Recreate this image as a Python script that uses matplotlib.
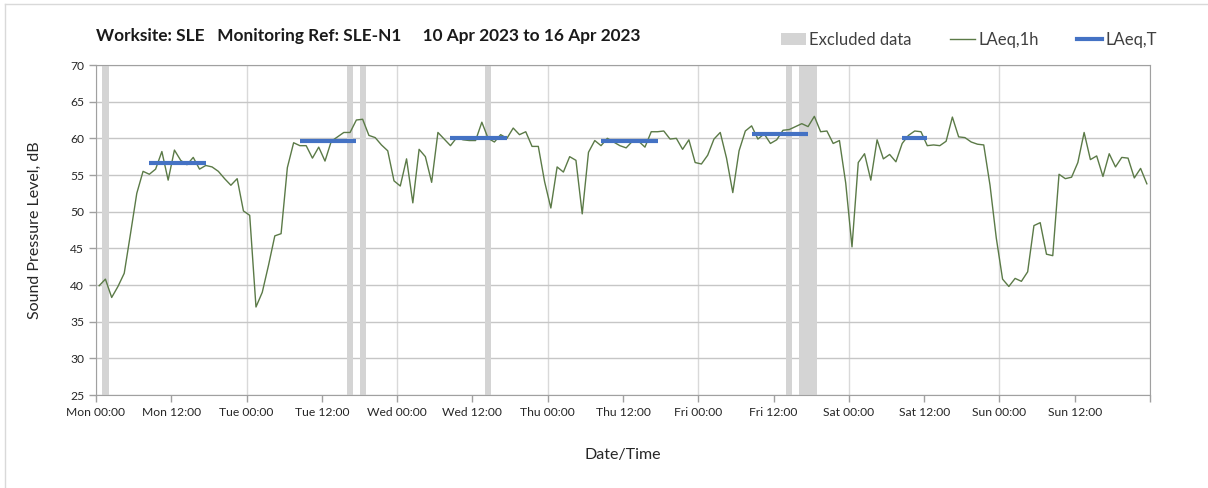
#!/usr/bin/env python
# -*- coding: utf-8 -*-

"""
Hourly noise monitoring chart for worksite SLE, 10 Apr 2023 to 16 Apr 2023.
"""

# Third party modules.
import matplotlib
matplotlib.use("Agg")
import matplotlib.pyplot as plt
from matplotlib.lines import Line2D
from matplotlib.patches import Patch

# Globals and constants variables.
TITLE = "Worksite: SLE   Monitoring Ref: SLE-N1     10 Apr 2023 to 16 Apr 2023"

# hourly LAeq,1h values, one per hour starting Mon 00:00
laeq_1h = [
    39.9, 40.8, 38.3, 39.8, 41.6, 47.0, 52.5, 55.5, 55.1, 55.8, 58.2, 54.3,
    58.4, 57.0, 56.4, 57.4, 55.8, 56.3, 56.1, 55.5, 54.5, 53.6, 54.5, 50.1,
    49.5, 37.0, 39.0, 42.7, 46.7, 47.0, 56.0, 59.4, 59.0, 59.0, 57.3, 58.8,
    56.9, 59.6, 60.2, 60.8, 60.8, 62.5, 62.6, 60.4, 60.1, 59.1, 58.3, 54.2,
    53.5, 57.2, 51.2, 58.5, 57.5, 54.0, 60.8, 59.9, 59.0, 60.1, 59.8, 59.7,
    59.7, 62.2, 60.0, 59.5, 60.5, 60.0, 61.4, 60.5, 60.9, 58.9, 58.9, 54.1,
    50.5, 56.1, 55.4, 57.5, 57.0, 49.7, 58.1, 59.7, 59.0, 60.0, 59.5, 59.0,
    58.7, 59.6, 59.6, 58.8, 60.9, 60.9, 61.0, 59.9, 60.0, 58.5, 59.8, 56.7,
    56.5, 57.7, 59.9, 60.8, 57.3, 52.6, 58.3, 61.0, 61.7, 59.9, 60.6, 59.3,
    59.8, 61.1, 61.2, 61.6, 62.0, 61.6, 63.0, 60.9, 61.0, 59.3, 59.7, 53.9,
    45.2, 56.7, 57.9, 54.3, 59.8, 57.2, 57.8, 56.8, 59.3, 60.4, 61.0, 60.9,
    59.0, 59.1, 59.0, 59.6, 62.9, 60.2, 60.1, 59.5, 59.2, 59.1, 53.6, 46.4,
    40.8, 39.8, 40.9, 40.5, 41.8, 48.1, 48.5, 44.2, 44.0, 55.1, 54.5, 54.7,
    56.7, 60.8, 57.1, 57.6, 54.8, 57.9, 56.1, 57.4, 57.3, 54.6, 55.9, 53.8,
]

# LAeq,T per day: start hour, end hour (hours since Mon 00:00), level
laeq_t_start = [8, 32, 56, 80, 104, 128]
laeq_t_end = [18, 42, 66, 90, 114, 133]
laeq_t_level = [56.6, 59.7, 60.1, 59.7, 60.6, 60.1]

# excluded periods, hours since Mon 00:00
excluded_start = [1, 40, 42, 62, 110, 112]
excluded_end = [2, 41, 43, 63, 111, 115]

days = ["Mon", "Tue", "Wed", "Thu", "Fri", "Sat", "Sun"]
tick_labels = ["%s %s" % (d, t) for d in days for t in ("00:00", "12:00")]


def plot_chart():
    plt.rcParams["font.family"] = ["Lato", "DejaVu Sans"]

    fig = plt.figure(figsize=(12.08, 4.88), dpi=100)
    ax = fig.add_axes([96 / 1208, 1 - 395 / 488, 1054 / 1208, 330 / 488])

    for x0, x1 in zip(excluded_start, excluded_end):
        ax.axvspan(x0, x1, color="#d4d4d4", lw=0, zorder=1)

    hours = [h + 0.5 for h in range(len(laeq_1h))]
    ax.plot(hours, laeq_1h, color="#5b7a47", lw=1.0, zorder=3)

    for x0, x1, level in zip(laeq_t_start, laeq_t_end, laeq_t_level):
        ax.plot([x0 + 0.5, x1 - 0.5], [level, level], color="#4472c4",
                lw=3, solid_capstyle="butt", zorder=4)

    ax.set_xlim(0, 168)
    ax.set_ylim(25, 70)
    ax.set_yticks(range(25, 71, 5))
    ax.set_xticks(range(0, 169, 12))
    ax.set_xticklabels(tick_labels + [""])
    ax.tick_params(axis="both", colors="#a0a0a0", labelcolor="#262626",
                   labelsize=8.7, length=5, width=1)

    for h in range(0, 169, 24):
        ax.axvline(h, color="#d9d9d9", lw=1, zorder=0)
    for v in range(25, 71, 5):
        ax.axhline(v, color="#c6c6c6", lw=1, zorder=0)
    for spine in ax.spines.values():
        spine.set_color("#a0a0a0")

    ax.set_ylabel("Sound Pressure Level, dB", fontsize=11.5, color="#262626",
                  labelpad=20)
    ax.set_xlabel("Date/Time", fontsize=11.5, color="#262626", labelpad=22)

    fig.text(96 / 1208, 1 - 36 / 488, TITLE, fontsize=12.4, fontweight="bold",
             va="center", ha="left", color="#1a1a1a")

    handles = [
        Patch(facecolor="#d4d4d4", edgecolor="none"),
        Line2D([], [], color="#5b7a47", lw=1.0),
        Line2D([], [], color="#4472c4", lw=3),
    ]
    fig.legend(handles, ["Excluded data", "LAeq,1h", "LAeq,T"], ncol=3,
               loc="center right", bbox_to_anchor=(1172 / 1208, 1 - 40 / 488),
               frameon=False, fontsize=12, handlelength=1.5,
               handletextpad=0.2, columnspacing=2.3, labelcolor="#404040")

    # light frame at the left and top of the picture
    fig.add_artist(Line2D([5 / 1208, 5 / 1208], [0, 1 - 4 / 488],
                          transform=fig.transFigure, color="#d9d9d9", lw=1))
    fig.add_artist(Line2D([5 / 1208, 1], [1 - 4 / 488, 1 - 4 / 488],
                          transform=fig.transFigure, color="#d9d9d9", lw=1))

    fig.savefig("out.png", dpi=100)
    plt.close(fig)


if __name__ == '__main__':
    plot_chart()
